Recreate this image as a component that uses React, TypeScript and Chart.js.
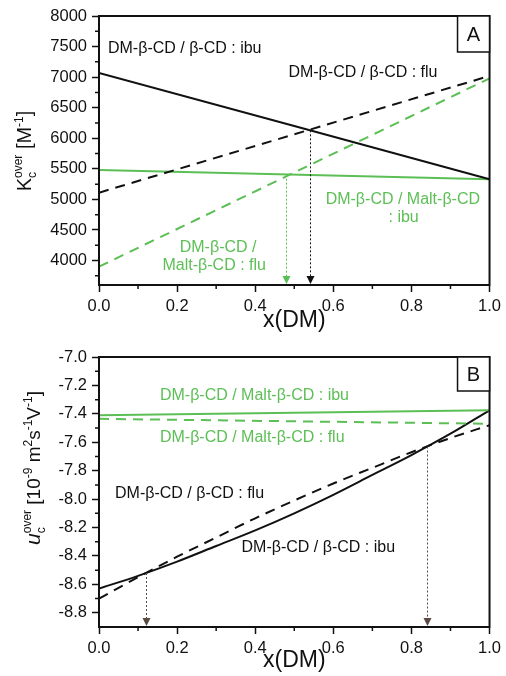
import { useEffect, useRef } from "react";
import { Chart, registerables } from "chart.js";

Chart.register(...registerables);

const FONT = '"Liberation Sans", Arial, Helvetica, sans-serif';
const BLACK = "#111111";
const GREEN = "#5cbf55";
const DOTTED = "#5a4a44";

// ---- Panel A: overall complexation constant K_c^over [M^-1] vs x(DM) ----
const xLine = [0, 1];
const kIbuBeta = [7070, 5330]; // DM-β-CD / β-CD : ibu
const kFluBeta = [5110, 7020]; // DM-β-CD / β-CD : flu
const kIbuMalt = [5480, 5330]; // DM-β-CD / Malt-β-CD : ibu
const kFluMalt = [3900, 6980]; // DM-β-CD / Malt-β-CD : flu
const kTicks = [4000, 4500, 5000, 5500, 6000, 6500, 7000, 7500, 8000];
const kMinor = [3750, 4250, 4750, 5250, 5750, 6250, 6750, 7250, 7750];
const kArrowX = [0.48, 0.54];
const kArrowTop = [5405, 6130];

// ---- Panel B: overall mobility u_c^over [10^-9 m^2 s^-1 V^-1] vs x(DM) ----
const xCurve = [0, 0.1, 0.2, 0.3, 0.4, 0.5, 0.6, 0.7, 0.8, 0.9, 1.0];
const uIbuBeta = [-8.63, -8.54, -8.44, -8.33, -8.22, -8.1, -7.97, -7.83, -7.69, -7.54, -7.375];
const uFluBeta = [-8.7, -8.55, -8.405, -8.27, -8.135, -8.01, -7.89, -7.78, -7.67, -7.57, -7.48];
const uIbuMalt = [-7.41, -7.375];
const uFluMalt = [-7.435, -7.47];
const uTicks = [-8.8, -8.6, -8.4, -8.2, -8.0, -7.8, -7.6, -7.4, -7.2, -7.0];
const uMinor = [-8.7, -8.5, -8.3, -8.1, -7.9, -7.7, -7.5, -7.3, -7.1];
const uArrowX = [0.12, 0.84];
const uArrowTop = [-8.52, -7.63];

const xTicks = [0, 0.2, 0.4, 0.6, 0.8, 1.0];
const xMinor = [0.1, 0.3, 0.5, 0.7, 0.9];

type Series = { xs: number[]; ys: number[]; color: string; dashed: boolean };
type Ann = { text: string; x: number; y: number; color: string; align: CanvasTextAlign };
type Run = { t: string; size: number; rise: number; italic?: boolean; stack?: boolean };

interface PanelSpec {
  padTop: number;
  xAxisHeight: number;
  yMin: number;
  yMax: number;
  yTicks: number[];
  yMinor: number[];
  yDecimals: number;
  series: Series[];
  anns: Ann[];
  arrowX: number[];
  arrowTop: number[];
  arrowColors: string[];
  letter: string;
  letterBoxH: number;
  yTitle: Run[];
  yTitleX: number;
  yTitleY: number;
  xTitleY: number;
}

const panelA: PanelSpec = {
  padTop: 16,
  xAxisHeight: 53,
  yMin: 3600,
  yMax: 8000,
  yTicks: kTicks,
  yMinor: kMinor,
  yDecimals: 0,
  series: [
    { xs: xLine, ys: kIbuBeta, color: BLACK, dashed: false },
    { xs: xLine, ys: kFluBeta, color: BLACK, dashed: true },
    { xs: xLine, ys: kIbuMalt, color: GREEN, dashed: false },
    { xs: xLine, ys: kFluMalt, color: GREEN, dashed: true },
  ],
  anns: [
    { text: "DM-β-CD / β-CD : ibu", x: 0.023, y: 7470, color: BLACK, align: "left" },
    { text: "DM-β-CD / β-CD : flu", x: 0.485, y: 7080, color: BLACK, align: "left" },
    { text: "DM-β-CD / Malt-β-CD", x: 0.778, y: 5005, color: GREEN, align: "center" },
    { text: ": ibu", x: 0.78, y: 4695, color: GREEN, align: "center" },
    { text: "DM-β-CD /", x: 0.305, y: 4220, color: GREEN, align: "center" },
    { text: "Malt-β-CD : flu", x: 0.295, y: 3910, color: GREEN, align: "center" },
  ],
  arrowX: kArrowX,
  arrowTop: kArrowTop,
  arrowColors: [GREEN, BLACK],
  letter: "A",
  letterBoxH: 36,
  yTitle: [
    { t: "K", size: 20, rise: 0 },
    { t: "c", size: 12, rise: -5, stack: true },
    { t: "over", size: 12, rise: 9 },
    { t: " [M", size: 20, rise: 0 },
    { t: "-1", size: 12, rise: 8 },
    { t: "]", size: 20, rise: 0 },
  ],
  yTitleX: 31,
  yTitleY: 151,
  xTitleY: 321,
};

const panelB: PanelSpec = {
  padTop: 19,
  xAxisHeight: 49,
  yMin: -8.9,
  yMax: -7.0,
  yTicks: uTicks,
  yMinor: uMinor,
  yDecimals: 1,
  series: [
    { xs: xLine, ys: uIbuMalt, color: GREEN, dashed: false },
    { xs: xLine, ys: uFluMalt, color: GREEN, dashed: true },
    { xs: xCurve, ys: uIbuBeta, color: BLACK, dashed: false },
    { xs: xCurve, ys: uFluBeta, color: BLACK, dashed: true },
  ],
  anns: [
    { text: "DM-β-CD / Malt-β-CD : ibu", x: 0.156, y: -7.27, color: GREEN, align: "left" },
    { text: "DM-β-CD / Malt-β-CD : flu", x: 0.156, y: -7.57, color: GREEN, align: "left" },
    { text: "DM-β-CD / β-CD : flu", x: 0.041, y: -7.96, color: BLACK, align: "left" },
    { text: "DM-β-CD / β-CD : ibu", x: 0.365, y: -8.34, color: BLACK, align: "left" },
  ],
  arrowX: uArrowX,
  arrowTop: uArrowTop,
  arrowColors: [DOTTED, DOTTED],
  letter: "B",
  letterBoxH: 34,
  yTitle: [
    { t: "u", size: 21, rise: 0, italic: true },
    { t: "c", size: 12, rise: -5, stack: true },
    { t: "over", size: 12, rise: 9 },
    { t: " [10", size: 19, rise: 0 },
    { t: "-9", size: 12, rise: 8 },
    { t: " m", size: 19, rise: 0 },
    { t: "2", size: 12, rise: 8 },
    { t: "s", size: 19, rise: 0 },
    { t: "-1", size: 12, rise: 8 },
    { t: "V", size: 19, rise: 0 },
    { t: "-1", size: 12, rise: 8 },
    { t: "]", size: 19, rise: 0 },
  ],
  yTitleX: 40,
  yTitleY: 130,
  xTitleY: 323,
};

function fontOf(r: Run) {
  return `${r.italic ? "italic " : ""}${r.size}px ${FONT}`;
}

// Draws a rotated axis title built from normal / sub / superscript runs.
function drawVerticalRich(ctx: CanvasRenderingContext2D, runs: Run[], bx: number, cy: number) {
  const widths: number[] = [];
  let total = 0;
  for (let i = 0; i < runs.length; i++) {
    ctx.font = fontOf(runs[i]);
    widths.push(ctx.measureText(runs[i].t).width);
  }
  for (let i = 0; i < runs.length; i++) {
    if (runs[i].stack && i + 1 < runs.length) {
      total += Math.max(widths[i], widths[i + 1]);
      i++;
    } else total += widths[i];
  }
  ctx.save();
  ctx.translate(bx, cy);
  ctx.rotate(-Math.PI / 2);
  ctx.fillStyle = BLACK;
  ctx.textBaseline = "alphabetic";
  ctx.textAlign = "left";
  let x = -total / 2;
  for (let i = 0; i < runs.length; i++) {
    const r = runs[i];
    ctx.font = fontOf(r);
    ctx.fillText(r.t, x, -r.rise);
    if (r.stack && i + 1 < runs.length) {
      const n = runs[i + 1];
      ctx.font = fontOf(n);
      ctx.fillText(n.t, x, -n.rise);
      x += Math.max(widths[i], widths[i + 1]);
      i++;
    } else x += widths[i];
  }
  ctx.restore();
}

function decorPlugin(spec: PanelSpec) {
  return {
    id: "panelDecor",
    afterDatasetsDraw(chart: any) {
      const ctx: CanvasRenderingContext2D = chart.ctx;
      const { left, right, top, bottom } = chart.chartArea;
      const xs = chart.scales.x;
      const ys = chart.scales.y;

      ctx.save();
      // dotted drop lines with arrow heads
      spec.arrowX.forEach((xv, i) => {
        const px = Math.round(xs.getPixelForValue(xv)) + 0.5;
        const pTop = ys.getPixelForValue(spec.arrowTop[i]);
        const color = spec.arrowColors[i];
        ctx.strokeStyle = color;
        ctx.fillStyle = color;
        ctx.lineWidth = 1;
        ctx.setLineDash([2, 2]);
        ctx.beginPath();
        ctx.moveTo(px, pTop);
        ctx.lineTo(px, bottom - 7);
        ctx.stroke();
        ctx.setLineDash([]);
        ctx.beginPath();
        ctx.moveTo(px - 4, bottom - 9);
        ctx.lineTo(px + 4, bottom - 9);
        ctx.lineTo(px, bottom - 1);
        ctx.closePath();
        ctx.fill();
      });

      // frame
      ctx.strokeStyle = BLACK;
      ctx.lineWidth = 2;
      ctx.strokeRect(left, top, right - left, bottom - top);

      // minor ticks
      ctx.lineWidth = 1.5;
      ctx.beginPath();
      spec.yMinor.forEach((v) => {
        const py = ys.getPixelForValue(v);
        ctx.moveTo(left - 4, py);
        ctx.lineTo(left, py);
      });
      xMinor.forEach((v) => {
        const px = xs.getPixelForValue(v);
        ctx.moveTo(px, bottom);
        ctx.lineTo(px, bottom + 4);
      });
      ctx.stroke();

      // panel letter box
      const bw = 32;
      ctx.lineWidth = 1.5;
      ctx.fillStyle = "#ffffff";
      ctx.fillRect(right - bw, top, bw, spec.letterBoxH);
      ctx.strokeRect(right - bw, top, bw, spec.letterBoxH);
      ctx.fillStyle = BLACK;
      ctx.font = `20px ${FONT}`;
      ctx.textAlign = "center";
      ctx.textBaseline = "middle";
      ctx.fillText(spec.letter, right - bw / 2, top + spec.letterBoxH / 2 + 1);

      // curve labels
      ctx.font = `16px ${FONT}`;
      spec.anns.forEach((a) => {
        ctx.fillStyle = a.color;
        ctx.textAlign = a.align;
        ctx.textBaseline = "middle";
        ctx.fillText(a.text, xs.getPixelForValue(a.x), ys.getPixelForValue(a.y));
      });

      // axis titles
      ctx.fillStyle = BLACK;
      ctx.font = `23px ${FONT}`;
      ctx.textAlign = "center";
      ctx.textBaseline = "middle";
      ctx.fillText("x(DM)", (left + right) / 2, spec.xTitleY);
      drawVerticalRich(ctx, spec.yTitle, spec.yTitleX, spec.yTitleY);
      ctx.restore();
    },
  };
}

function buildConfig(spec: PanelSpec): any {
  const tickFont = { family: FONT, size: 16.5 };
  const grid = {
    drawOnChartArea: false,
    drawTicks: true,
    tickLength: 7,
    tickColor: BLACK,
    tickWidth: 1.5,
  };
  return {
    type: "line",
    data: {
      datasets: spec.series.map((s) => ({
        data: s.xs.map((x, i) => ({ x, y: s.ys[i] })),
        borderColor: s.color,
        borderWidth: 2,
        borderDash: s.dashed ? [10, 7] : [],
        pointRadius: 0,
        fill: false,
        cubicInterpolationMode: "monotone",
      })),
    },
    options: {
      responsive: false,
      animation: false,
      events: [],
      layout: { padding: { left: 0, right: 15, top: spec.padTop, bottom: 0 } },
      plugins: { legend: { display: false }, tooltip: { enabled: false } },
      scales: {
        x: {
          type: "linear",
          min: 0,
          max: 1,
          afterFit: (s: any) => {
            s.height = spec.xAxisHeight;
          },
          afterBuildTicks: (s: any) => {
            s.ticks = xTicks.map((v) => ({ value: v }));
          },
          ticks: {
            padding: 5,
            color: BLACK,
            font: tickFont,
            maxRotation: 0,
            autoSkip: false,
            callback: (v: any) => Number(v).toFixed(1),
          },
          grid,
          border: { display: true, color: BLACK, width: 2 },
        },
        y: {
          type: "linear",
          min: spec.yMin,
          max: spec.yMax,
          afterFit: (s: any) => {
            s.width = 99;
          },
          afterBuildTicks: (s: any) => {
            s.ticks = spec.yTicks.map((v) => ({ value: v }));
          },
          ticks: {
            padding: 5,
            color: BLACK,
            font: tickFont,
            autoSkip: false,
            callback: (v: any) => Number(v).toFixed(spec.yDecimals),
          },
          grid,
          border: { display: true, color: BLACK, width: 2 },
        },
      },
    },
    plugins: [decorPlugin(spec)],
  };
}

function Panel({ spec, top }: { spec: PanelSpec; top: number }) {
  const ref = useRef<HTMLCanvasElement>(null);
  useEffect(() => {
    if (!ref.current) return;
    const chart = new Chart(ref.current, buildConfig(spec));
    return () => chart.destroy();
  }, [spec]);
  return (
    <canvas
      ref={ref}
      width={506}
      height={338}
      style={{ position: "absolute", left: 0, top, width: 506, height: 338, display: "block" }}
    />
  );
}

export default function App() {
  return (
    <div style={{ position: "absolute", left: 0, top: 0, width: 506, height: 676, background: "#ffffff" }}>
      <Panel spec={panelA} top={0} />
      <Panel spec={panelB} top={338} />
    </div>
  );
}
